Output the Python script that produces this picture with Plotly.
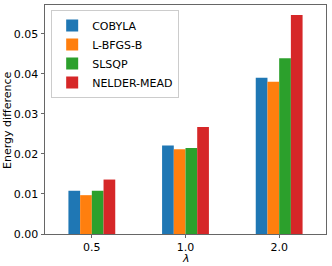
import plotly.graph_objects as go

categories = ["0.5", "1.0", "2.0"]
series_names = ["COBYLA", "L-BFGS-B", "SLSQP", "NELDER-MEAD"]
cobyla = [0.0108, 0.0221, 0.0390]
lbfgsb = [0.0097, 0.0212, 0.0380]
slsqp = [0.0108, 0.0215, 0.0439]
nelder_mead = [0.0136, 0.0267, 0.0547]
colors = ["#1f77b4", "#ff7f0e", "#2ca02c", "#d62728"]
y_ticks = [0.00, 0.01, 0.02, 0.03, 0.04, 0.05]

font = "DejaVu Sans"
fig = go.Figure()
for name, vals, col in zip(series_names, [cobyla, lbfgsb, slsqp, nelder_mead], colors):
    fig.add_trace(go.Bar(x=categories, y=vals, name=name, marker=dict(color=col, line=dict(width=0))))

fig.update_layout(
    width=332, height=266,
    margin=dict(l=45, r=6, t=5, b=32, autoexpand=False),
    barmode="group", bargap=0.5, bargroupgap=0,
    plot_bgcolor="white", paper_bgcolor="white",
    font=dict(family=font, size=11, color="black"),
    showlegend=True,
    legend=dict(x=0.022, y=0.978, xanchor="left", yanchor="top",
                bgcolor="white", bordercolor="#cccccc", borderwidth=1,
                font=dict(size=11), tracegroupgap=0, itemwidth=30),
    xaxis=dict(type="category", range=[-0.5, 2.5], showline=True, mirror=True,
               linecolor="#666666", linewidth=1, ticks="outside", ticklen=3,
               tickcolor="#666666", showgrid=False, automargin=False),
    yaxis=dict(range=[0, 0.0572], tickvals=y_ticks, tickformat=".2f",
               showline=True, mirror=True, linecolor="#666666", linewidth=1,
               ticks="outside", ticklen=3.5, tickcolor="#666666", showgrid=False,
               zeroline=False, automargin=False),
    annotations=[
        dict(text="Energy difference", xref="paper", yref="paper", x=-0.1317, y=0.498,
             xanchor="center", yanchor="middle", textangle=-90, showarrow=False,
             font=dict(size=11)),
        dict(text="<i>λ</i>", xref="paper", yref="paper", x=0.5, y=-0.106,
             xanchor="center", yanchor="middle", showarrow=False, font=dict(size=11)),
    ],
)
fig.write_html("out.html", config={"displayModeBar": False},
               post_script="document.body.style.margin='0';document.body.style.overflow='hidden';")
